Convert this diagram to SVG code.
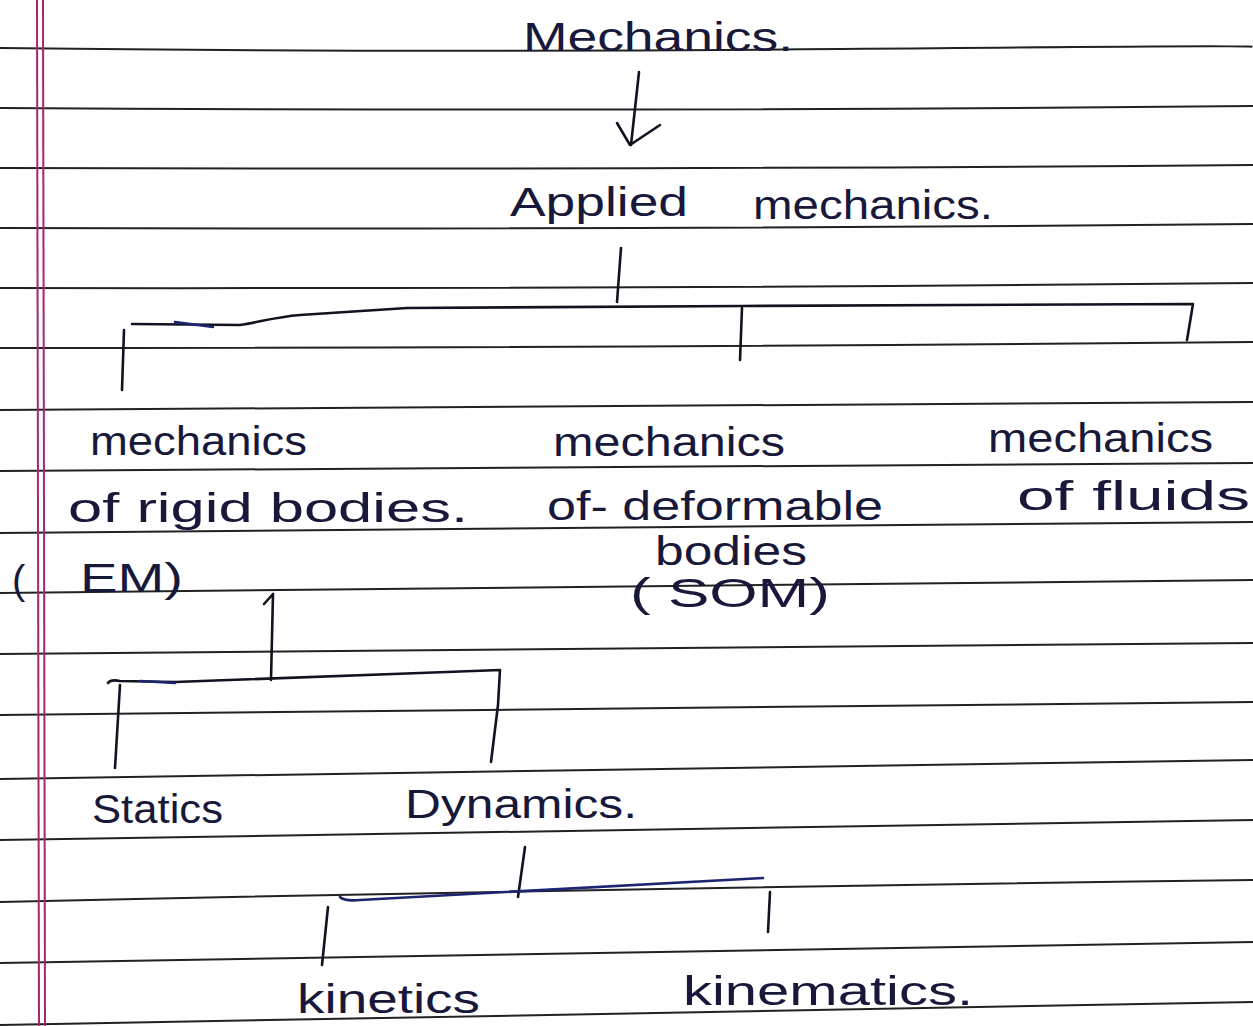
<svg xmlns="http://www.w3.org/2000/svg" width="1253" height="1026" viewBox="0 0 1253 1026">
<style>
.rule{fill:none;stroke:#222222;stroke-width:2}
.margin{fill:none;stroke:#a8266e;stroke-width:2}
.ink{fill:none;stroke:#121220;stroke-width:2.6;stroke-linecap:round;stroke-linejoin:round}
.blue{fill:none;stroke:#1d2470;stroke-width:2.6;stroke-linecap:round;stroke-linejoin:round}
.t{font-family:"Liberation Sans","DejaVu Sans",sans-serif;fill:#18183a;font-size:40px}
</style>
<rect width="1253" height="1026" fill="#ffffff"/>
<g id="ruling">
<path class="rule" d="M0,48 Q420,53 840,49 T1253,47"/>
<path class="rule" d="M0,108 Q630,112 1253,106"/>
<path class="rule" d="M0,168 Q630,170 1253,165"/>
<path class="rule" d="M0,228 Q630,230 1253,224"/>
<path class="rule" d="M0,288 Q630,289 1253,283"/>
<path class="rule" d="M0,348 Q630,348 1253,342"/>
<path class="rule" d="M0,410 Q630,407 1253,402"/>
<path class="rule" d="M0,471 Q630,467 1253,463"/>
<path class="rule" d="M0,533 Q630,527 1253,522"/>
<path class="rule" d="M0,593 Q630,588 1253,580"/>
<path class="rule" d="M0,654 Q630,650 1253,643"/>
<path class="rule" d="M0,715 Q630,706 1253,702"/>
<path class="rule" d="M0,779 Q630,768 1253,760"/>
<path class="rule" d="M0,840 Q630,828 1253,820"/>
<path class="rule" d="M0,902 Q630,888 1253,880"/>
<path class="rule" d="M0,963 Q630,950 1253,942"/>
<path class="rule" d="M0,1025 Q630,1011 1253,1002"/>
</g>
<g id="margin">
<path class="margin" d="M37,0 L39,1026"/>
<path class="margin" d="M43,0 L45,1026"/>
</g>
<g id="connectors">
<path class="ink" d="M639,72 L631,145"/>
<path class="ink" d="M617,123 L630,145 L660,125"/>
<path class="ink" d="M621,248 L617,302"/>
<path class="ink" d="M132,324 L240,325 C260,322 275,317 300,315 L407,308 L742,306 L1193,304 L1187,340"/>
<path class="blue" d="M175,322 L213,327"/>
<path class="ink" d="M124,330 L122,390"/>
<path class="ink" d="M742,308 L740,360"/>
<path class="ink" d="M264,604 L273,594 L271,680"/>
<path class="ink" d="M108,683 C110,680 115,680 120,681 L175,682 L420,673 L500,670 L498,705 L491,762"/>
<path class="blue" d="M140,681 L175,683"/>
<path class="ink" d="M120,685 L115,768"/>
<path class="ink" d="M525,847 L518,897"/>
<path class="blue" d="M340,897 C343,900 350,901 360,900 L763,878"/>
<path class="ink" d="M328,907 L322,965"/>
<path class="ink" d="M770,892 L768,932"/>
</g>
<g id="node-mechanics">
<text class="t" x="523" y="51" font-size="42" textLength="270" lengthAdjust="spacingAndGlyphs">Mechanics.</text>
</g>
<g id="node-applied-mechanics">
<text class="t" x="510" y="216" font-size="46" textLength="178" lengthAdjust="spacingAndGlyphs">Applied</text>
<text class="t" x="753" y="219" font-size="42" textLength="240" lengthAdjust="spacingAndGlyphs">mechanics.</text>
</g>
<g id="node-rigid-bodies">
<text class="t" x="90" y="455" textLength="217" lengthAdjust="spacingAndGlyphs">mechanics</text>
<text class="t" x="68" y="522" font-size="38" textLength="400" lengthAdjust="spacingAndGlyphs">of rigid bodies.</text>
<text class="t" x="12" y="594" font-size="60">(</text>
<text class="t" x="80" y="592" textLength="103" lengthAdjust="spacingAndGlyphs">EM)</text>
</g>
<g id="node-deformable-bodies">
<text class="t" x="553" y="456" textLength="232" lengthAdjust="spacingAndGlyphs">mechanics</text>
<text class="t" x="547" y="520" font-size="38" textLength="336" lengthAdjust="spacingAndGlyphs">of- deformable</text>
<text class="t" x="655" y="565" font-size="34" textLength="152" lengthAdjust="spacingAndGlyphs">bodies</text>
<text class="t" x="630" y="607" font-size="34" textLength="200" lengthAdjust="spacingAndGlyphs">( SOM)</text>
</g>
<g id="node-fluids">
<text class="t" x="988" y="452" font-size="38" textLength="225" lengthAdjust="spacingAndGlyphs">mechanics</text>
<text class="t" x="1017" y="510" font-size="36" textLength="233" lengthAdjust="spacingAndGlyphs">of fluids</text>
</g>
<g id="node-statics">
<text class="t" x="92" y="823" textLength="131" lengthAdjust="spacingAndGlyphs">Statics</text>
</g>
<g id="node-dynamics">
<text class="t" x="405" y="818" textLength="232" lengthAdjust="spacingAndGlyphs">Dynamics.</text>
</g>
<g id="node-kinetics">
<text class="t" x="297" y="1013" textLength="183" lengthAdjust="spacingAndGlyphs">kinetics</text>
</g>
<g id="node-kinematics">
<text class="t" x="683" y="1005" textLength="290" lengthAdjust="spacingAndGlyphs">kinematics.</text>
</g>
</svg>
